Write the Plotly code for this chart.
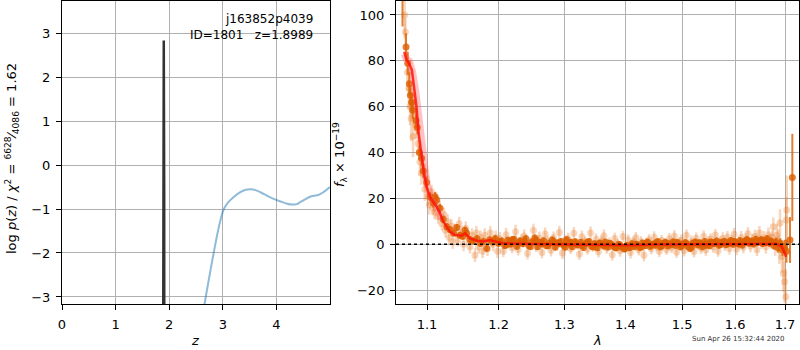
import plotly.graph_objects as go

# ---------------- left panel: log p(z) ----------------
z_pz = [1.8890, 1.8900, 1.8989, 1.9070, 1.9080]
logp_pz = [-3.5, -0.62, 2.83, -0.62, -3.5]

z_chi = [2.60, 2.66, 2.74, 2.83, 2.93, 3.02, 3.10, 3.21, 3.32, 3.43, 3.52, 3.61, 3.72, 3.83,
         3.95, 4.08, 4.20, 4.30, 4.38, 4.45, 4.55, 4.63, 4.70, 4.78, 4.86, 4.93, 5.00]
logp_chi = [-3.6, -3.16, -2.6, -2.0, -1.39, -1.0, -0.85, -0.72, -0.62, -0.56, -0.55, -0.57, -0.63, -0.70,
            -0.77, -0.83, -0.88, -0.90, -0.89, -0.84, -0.77, -0.72, -0.70, -0.68, -0.63, -0.57, -0.50]

z_ticks = [0, 1, 2, 3, 4]
logp_ticks = [-3, -2, -1, 0, 1, 2, 3]

# ---------------- right panel: spectrum ----------------
lam_dark = [1.0677, 1.0723, 1.0745, 1.0766, 1.0780, 1.0797, 1.0810, 1.0854, 1.0871, 1.0897,
            1.0929, 1.0951, 1.0996, 1.1040, 1.1085, 1.1108, 1.1131, 1.1175, 1.1220, 1.1267,
            1.1310, 1.1360, 1.1405, 1.1450, 1.1490, 1.1520, 1.1543, 1.1590, 1.1640, 1.1690,
            1.1740, 1.1780, 1.1828, 1.1870, 1.1910, 1.1950,
            1.2000, 1.2045, 1.2090, 1.2135, 1.2180, 1.2225, 1.2270, 1.2315, 1.2360, 1.2405,
            1.2450, 1.2495, 1.2540, 1.2585, 1.2630, 1.2675, 1.2720, 1.2765, 1.2810, 1.2855,
            1.2900, 1.2945, 1.2990, 1.3035, 1.3080, 1.3125, 1.3170, 1.3215, 1.3260, 1.3305,
            1.3350, 1.3395, 1.3440, 1.3485, 1.3530, 1.3575, 1.3620, 1.3665, 1.3710, 1.3755,
            1.3800, 1.3845, 1.3890, 1.3935, 1.3980, 1.4025, 1.4070, 1.4115, 1.4160, 1.4205,
            1.4250, 1.4295, 1.4340, 1.4385, 1.4430, 1.4475, 1.4520, 1.4565, 1.4610, 1.4655,
            1.4700, 1.4745, 1.4790, 1.4835, 1.4880, 1.4925, 1.4970, 1.5015, 1.5060, 1.5105,
            1.5150, 1.5195, 1.5240, 1.5285, 1.5330, 1.5375, 1.5420, 1.5465, 1.5510, 1.5555,
            1.5600, 1.5645, 1.5690, 1.5735, 1.5780, 1.5825, 1.5870, 1.5915, 1.5960, 1.6005,
            1.6050, 1.6095, 1.6140, 1.6185, 1.6230, 1.6275, 1.6320, 1.6365, 1.6410, 1.6455,
            1.6500, 1.6545, 1.6590, 1.6635, 1.6680, 1.6725, 1.6770, 1.6815, 1.6860, 1.6905,
            1.6950, 1.6990, 1.7030, 1.7104, 1.7152]
flux_dark = [110, 86, 79, 70, 65, 62, 58.6, 54, 51, 40,
             37.5, 32, 27, 20.8, 18, 20.8, 19.3, 15.7, 11, 7.7,
             6.5, 5.0, 7.4, 4.0, 3.5, 6.2, 4.8, 2.0, 1.5, 2.5,
             0.5, 1.2, -1.7, 2.0, 1.0, 2.5,
             0.5, 1.5, -0.5, 1.8, 0.2, 2.2, -0.8, 1.5, 0.3, 2.5,
             -0.5, 1.0, 2.8, -1.0, 0.8, 1.6, -0.6, 0.5, 1.9, -1.2,
             0.7, 1.3, -0.4, 2.0, 0.2, -1.0, 1.1, -0.3, 0.9, -1.4,
             0.4, 1.2, -0.8, 0.3, -1.5, 0.6, -0.2, 1.0, -1.1, 0.2,
             -0.7, -1.6, 0.1, -1.2, -2.0, -0.5, -1.5, 0.3, -1.0, -0.2,
             -1.4, 0.6, -0.6, 1.0, -0.9, 0.2, -0.4, 1.2, -1.1, 0.4,
             0.9, -0.7, 0.3, 1.1, -0.5, 0.6, -1.2, 0.2, 0.8, -0.9,
             -1.8, 0.5, 1.0, -0.3, 0.7, -1.0, 1.3, 0.1, -0.6, 0.9,
             0.3, 1.5, -0.4, 0.8, 1.2, -0.2, 0.6, 1.7, 0.0, 1.0,
             0.4, 1.6, -0.3, 1.2, 2.0, 0.5, 1.4, 0.2, 2.2, 0.9,
             1.8, 0.4, 1.5, 2.4, 0.6, 1.3, -0.5, 1.0, -1.5, 0.5,
             -2.5, -1.0, -3.0, 1.9, 29.2]
err_dark = [15, 6, 5, 5, 4, 4, 4, 3, 3, 3,
            3, 3, 2.5, 2, 2, 2, 2, 2, 1.5, 1.5,
            1.5, 1.5, 1.5, 1.5, 1.5, 1.5, 1.5, 1.5, 1.5, 1.5,
            1.5, 1.5, 1.5, 1.5, 1.5, 1.5,
            1.5, 1.5, 1.5, 1.5, 1.5, 1.5, 1.5, 1.5, 1.5, 1.5,
            1.5, 1.5, 1.5, 1.5, 1.5, 1.5, 1.5, 1.5, 1.5, 1.5,
            1.4, 1.4, 1.4, 1.4, 1.4, 1.4, 1.4, 1.4, 1.4, 1.4,
            1.4, 1.4, 1.4, 1.4, 1.4, 1.4, 1.4, 1.4, 1.4, 1.4,
            1.3, 1.3, 1.3, 1.3, 1.3, 1.3, 1.3, 1.3, 1.3, 1.3,
            1.3, 1.3, 1.3, 1.3, 1.3, 1.3, 1.3, 1.3, 1.3, 1.3,
            1.3, 1.3, 1.3, 1.3, 1.3, 1.3, 1.3, 1.3, 1.3, 1.3,
            1.4, 1.4, 1.4, 1.4, 1.4, 1.4, 1.4, 1.4, 1.4, 1.4,
            1.4, 1.4, 1.4, 1.4, 1.4, 1.4, 1.4, 1.4, 1.4, 1.4,
            1.5, 1.5, 1.5, 1.5, 1.5, 1.5, 1.5, 1.5, 1.5, 1.5,
            1.6, 1.6, 1.6, 1.6, 1.7, 1.7, 1.8, 1.9, 2.0, 2.2,
            2.5, 3.0, 5.0, 10.0, 19.0]

lam_dark2 = [1.2022, 1.2112, 1.2202, 1.2292, 1.2382, 1.2472, 1.2562, 1.2652, 1.2742, 1.2832,
             1.2922, 1.3012, 1.3102, 1.3192, 1.3282, 1.3372, 1.3462, 1.3552, 1.3642, 1.3732,
             1.3822, 1.3912, 1.4002, 1.4092, 1.4182, 1.4272, 1.4362, 1.4452, 1.4542, 1.4632,
             1.4722, 1.4812, 1.4902, 1.4992, 1.5082, 1.5172, 1.5262, 1.5352, 1.5442, 1.5532,
             1.5622, 1.5712, 1.5802, 1.5892, 1.5982, 1.6072, 1.6162, 1.6252, 1.6342, 1.6432,
             1.6522, 1.6612, 1.6702]
flux_dark2 = [1.2, -0.3, 2.0, 0.6, 1.4, -1.0, 1.8, 0.2, -0.6, 1.1,
              0.4, -1.3, 0.9, 0.1, -0.5, 1.0, -1.2, 0.3, -0.8, 0.5,
              -1.3, -0.4, -1.7, -0.9, 0.1, -1.1, 0.5, -0.3, 0.8, -0.6,
              0.4, -0.2, 0.9, -0.5, 0.3, -1.2, 0.6, 0.2, -0.4, 1.0,
              0.8, -0.1, 1.1, 0.5, 1.3, 0.2, 0.9, 1.6, 0.7, 1.2,
              1.9, 0.8, 1.1]
err_dark2 = [1.5, 1.4, 1.5, 1.4, 1.5, 1.4, 1.5, 1.4, 1.4, 1.4,
             1.4, 1.3, 1.4, 1.3, 1.4, 1.3, 1.3, 1.3, 1.3, 1.3,
             1.3, 1.3, 1.3, 1.3, 1.3, 1.3, 1.3, 1.3, 1.3, 1.3,
             1.3, 1.3, 1.3, 1.3, 1.3, 1.4, 1.4, 1.4, 1.4, 1.4,
             1.4, 1.4, 1.4, 1.4, 1.4, 1.5, 1.5, 1.5, 1.5, 1.5,
             1.6, 1.6, 1.7]

lam_faint = [1.0705, 1.0715, 1.0740, 1.0760, 1.0775, 1.0790, 1.0800, 1.0815, 1.0830, 1.0850,
             1.0880, 1.0905, 1.0925, 1.0945, 1.0970, 1.0985, 1.1010, 1.1030, 1.1060, 1.1080,
             1.1100, 1.1120, 1.1150, 1.1170, 1.1200, 1.1230, 1.1250, 1.1280, 1.1300, 1.1330,
             1.1350, 1.1380, 1.1420, 1.1440, 1.1470, 1.1500, 1.1530, 1.1560, 1.1590, 1.1620,
             1.1661, 1.1680, 1.1710, 1.1740, 1.1770, 1.1800, 1.1840, 1.1880, 1.1920, 1.1960,
             1.1985,
             1.202, 1.207, 1.211, 1.216, 1.220, 1.225, 1.229, 1.234, 1.238, 1.243,
             1.247, 1.252, 1.256, 1.261, 1.265, 1.270, 1.274, 1.279, 1.283, 1.288,
             1.292, 1.297, 1.301, 1.306, 1.310, 1.315, 1.319, 1.324, 1.328, 1.333,
             1.337, 1.342, 1.346, 1.351, 1.355, 1.360, 1.364, 1.369, 1.373, 1.378,
             1.382, 1.387, 1.391, 1.396, 1.400, 1.405, 1.409, 1.414, 1.418, 1.423,
             1.427, 1.432, 1.436, 1.441, 1.445, 1.450, 1.454, 1.459, 1.463, 1.468,
             1.472, 1.477, 1.481, 1.486, 1.490, 1.495, 1.499, 1.504, 1.508, 1.513,
             1.517, 1.522, 1.526, 1.531, 1.535, 1.540, 1.544, 1.549, 1.553, 1.558,
             1.562, 1.567, 1.571, 1.576, 1.580, 1.585, 1.589, 1.594, 1.598, 1.603,
             1.607, 1.612, 1.616, 1.621, 1.625, 1.630, 1.634, 1.639, 1.643, 1.648,
             1.652, 1.657, 1.661, 1.666, 1.670,
             1.6740, 1.6760, 1.6800, 1.6830, 1.6860, 1.6883, 1.6897, 1.6935, 1.6966, 1.6990,
             1.7017, 1.7024, 1.7037]
flux_faint = [100, 92.6, 75, 68, 60, 55, 62, 47, 58, 52,
              44, 36, 31, 34, 24, 29, 21, 17, 23, 16,
              14, 20, 12, 16, 9, 13, 6, 10, 3, 8,
              1, 6, 2, 9, 5, 0, 7, 3, -1, 4,
              -4.7, 5, -1, 3, -3, 4, -2, 5, 0, 3,
              -3,
              2.5, -3.0, 4.2, 0.8, -1.5, 5.5, -2.2, 1.9, 3.6, -4.0,
              0.5, 6.0, -1.0, 2.8, -3.5, 4.5, 1.2, -2.6, 3.0, -0.5,
              5.2, -3.8, 1.6, 2.4, -1.8, 4.8, 0.2, -4.2, 3.3, 1.0,
              -2.0, 5.0, -0.8, 2.2, -3.2, 1.4, 3.8, -1.6, 0.6, -4.5,
              2.6, 0.0, -2.8, 3.4, -1.2, 1.8, -3.6, 0.9, 2.9, -2.4,
              1.1, -4.8, 0.4, 2.0, -1.9, 3.1, -0.6, -3.0, 1.7, 0.3,
              -2.2, 2.5, -1.4, 3.6, -3.4, 0.7, 1.9, -2.7, 4.0, -0.9,
              1.3, -3.1, 2.7, 0.1, -1.7, 3.5, -2.5, 1.0, 2.3, -1.1,
              4.1, -2.9, 0.8, 2.6, -0.4, 3.2, -1.8, 1.5, 4.4, -2.0,
              0.6, 3.0, -1.3, 2.1, 4.6, -0.7, 1.8, 3.4, -2.3, 5.0,
              0.9, 2.8, -1.0, 4.2, 1.4,
              3.0, 7.7, -1.0, 4.0, 1.5, -2.5, 9.3, -5.4, -12.7, -16.3,
              -22.8, 10.6, 15.0]
err_faint = [10, 6, 8, 9, 8, 10, 6, 9, 6, 6,
             5, 6, 5, 4, 5, 4, 4, 4, 3, 3,
             3, 3, 3, 3, 3, 3, 3, 3, 3, 3,
             3, 3, 3, 3, 3, 3, 3, 3, 3, 3,
             3, 3, 3, 3, 3, 3, 3, 3, 3, 3,
             3,
             2.8, 2.5, 3.0, 2.6, 2.4, 3.1, 2.7, 2.5, 2.9, 2.6,
             2.5, 3.0, 2.4, 2.8, 2.6, 2.9, 2.5, 2.7, 2.6, 2.4,
             2.9, 2.6, 2.5, 2.7, 2.4, 2.8, 2.5, 2.6, 2.7, 2.4,
             2.5, 2.8, 2.4, 2.6, 2.5, 2.4, 2.7, 2.5, 2.4, 2.6,
             2.5, 2.4, 2.6, 2.5, 2.4, 2.5, 2.6, 2.4, 2.5, 2.4,
             2.5, 2.6, 2.4, 2.5, 2.4, 2.6, 2.4, 2.5, 2.4, 2.5,
             2.4, 2.5, 2.4, 2.6, 2.5, 2.4, 2.5, 2.6, 2.5, 2.4,
             2.5, 2.6, 2.5, 2.4, 2.5, 2.6, 2.5, 2.4, 2.5, 2.6,
             2.6, 2.5, 2.6, 2.7, 2.5, 2.6, 2.7, 2.5, 2.8, 2.6,
             2.7, 2.8, 2.6, 2.7, 2.9, 2.7, 2.8, 3.0, 2.8, 3.0,
             2.9, 3.0, 3.1, 3.2, 3.3,
             3, 4, 4, 5, 5, 6, 6, 7, 8, 9,
             12, 10, 15]

lam_model = [1.0700, 1.0723, 1.0760, 1.0800, 1.0830, 1.0860, 1.0890, 1.0929, 1.0960, 1.0996,
             1.1030, 1.1063, 1.1131, 1.1175, 1.1220, 1.1312, 1.1381, 1.1474, 1.1520, 1.1591,
             1.1686, 1.1780, 1.1876, 1.1974, 1.2070, 1.2500, 1.3000, 1.3500, 1.3900, 1.4100,
             1.4500, 1.5000, 1.5500, 1.6000, 1.6500, 1.6832, 1.6935, 1.7003, 1.7024]
flux_model = [84, 81, 79, 76, 68, 60, 48, 38, 31, 25,
              21.5, 19.3, 16.4, 13.5, 9.9, 5.5, 4.1, 3.8, 4.8, 2.6,
              1.6, 1.3, 1.9, 1.1, 0.4, 0.2, 0.1, 0.0, -0.3, -0.4,
              -0.1, 0.0, 0.1, 0.2, 0.3, 0.2, -1.0, -3.9, -5.4]

lam_model2 = [1.0700, 1.0723, 1.0766, 1.0810, 1.0850, 1.0880, 1.0920, 1.0960, 1.1000, 1.1050,
              1.1100, 1.1150, 1.1200]
flux_model2 = [83, 81, 80, 75, 67, 58, 45, 33, 26, 21, 18, 15, 11]

lam_ticks = [1.1, 1.2, 1.3, 1.4, 1.5, 1.6, 1.7]
flux_ticks = [-20, 0, 20, 40, 60, 80, 100]

DARK = "rgba(220,95,0,0.8)"
FAINT = "rgba(230,110,20,0.28)"
FONT = "DejaVu Sans"

fig = go.Figure()

# left panel
fig.add_trace(go.Scatter(x=z_chi, y=logp_chi, mode="lines", xaxis="x", yaxis="y",
                         line=dict(color="rgba(31,119,180,0.5)", width=2, shape="spline")))
fig.add_trace(go.Scatter(x=z_pz, y=logp_pz, mode="lines", xaxis="x", yaxis="y",
                         line=dict(color="#333333", width=2.5)))

# right panel
fig.add_trace(go.Scatter(x=lam_faint, y=flux_faint, mode="markers", xaxis="x2", yaxis="y2",
                         marker=dict(color=FAINT, size=7, line=dict(width=0)),
                         error_y=dict(type="data", array=err_faint, color=FAINT, thickness=2.5, width=0)))
for lx, fy, ey in [(lam_dark, flux_dark, err_dark), (lam_dark2, flux_dark2, err_dark2)]:
    fig.add_trace(go.Scatter(x=lx, y=fy, mode="markers", xaxis="x2", yaxis="y2",
                             marker=dict(color=DARK, size=7, line=dict(width=0)),
                             error_y=dict(type="data", array=ey, color=DARK, thickness=2, width=0)))
fig.add_trace(go.Scatter(x=lam_model2, y=flux_model2, mode="lines", xaxis="x2", yaxis="y2",
                         line=dict(color="rgba(255,80,80,0.35)", width=7)))
fig.add_trace(go.Scatter(x=lam_model, y=flux_model, mode="lines", xaxis="x2", yaxis="y2",
                         line=dict(color="rgba(255,20,10,0.85)", width=2.5)))

fig.add_shape(type="line", xref="x2 domain", yref="y2", x0=0, x1=1, y0=0, y1=0,
              line=dict(color="black", width=1.5, dash="dot"), layer="above")

axis_common = dict(showline=True, linecolor="black", linewidth=1, mirror=True,
                   ticks="outside", ticklen=5, tickwidth=1, tickcolor="black",
                   showgrid=True, gridcolor="#b0b0b0", gridwidth=1, zeroline=False,
                   tickfont=dict(family=FONT, size=13, color="black"), ticklabelstandoff=3)

fig.update_layout(
    width=800, height=350,
    margin=dict(l=62, r=1, t=1, b=46),
    paper_bgcolor="white", plot_bgcolor="white",
    showlegend=False,
    font=dict(family=FONT, size=13, color="black"),
    xaxis=dict(domain=[0, 0.3636], range=[0, 5.0], tickvals=z_ticks, anchor="y", **axis_common),
    yaxis=dict(domain=[0, 1], range=[-3.16, 3.73], tickvals=logp_ticks, anchor="x", **axis_common),
    xaxis2=dict(domain=[0.4532, 1], type="log", range=[0.02502, 0.23784], tickvals=lam_ticks,
                ticktext=[str(v) for v in lam_ticks], anchor="y2", **axis_common),
    yaxis2=dict(domain=[0, 1], range=[-26.0, 106.1], tickvals=flux_ticks, anchor="x2", **axis_common),
)

ann = [
    dict(text="j163852p4039", xref="x", yref="y", x=4.72, y=3.32, xanchor="right", yanchor="middle",
         showarrow=False, font=dict(family=FONT, size=12, color="black")),
    dict(text="ID=1801   z=1.8989", xref="x", yref="y", x=4.72, y=2.95, xanchor="right", yanchor="middle",
         showarrow=False, font=dict(family=FONT, size=12, color="black")),
    dict(text="<i>z</i>", xref="x domain", yref="paper", x=0.5, y=-0.119, xanchor="center", yanchor="middle",
         showarrow=False, font=dict(family=FONT, size=13, color="black")),
    dict(text="<i>λ</i>", xref="x2 domain", yref="paper", x=0.5, y=-0.119, xanchor="center", yanchor="middle",
         showarrow=False, font=dict(family=FONT, size=13, color="black")),
    dict(text="log <i>p</i>(<i>z</i>) / <i>χ</i><sup>2</sup> = <sup>6628</sup>⁄<sub>4086</sub> = 1.62",
         xref="paper", yref="paper", x=-0.0678, y=0.4785, xanchor="center", yanchor="middle",
         textangle=-90, showarrow=False, font=dict(family=FONT, size=13, color="black")),
    dict(text="<i>f</i><sub>λ</sub> × 10<sup>−19</sup>", xref="paper", yref="paper", x=0.3772, y=0.495,
         xanchor="center", yanchor="middle", textangle=-90, showarrow=False,
         font=dict(family=FONT, size=13, color="black")),
    dict(text="Sun Apr 26 15:32:44 2020", xref="paper", yref="paper", x=0.9837, y=-0.1155,
         xanchor="right", yanchor="middle", showarrow=False, font=dict(family=FONT, size=7, color="#333333")),
]
fig.update_layout(annotations=ann)

fig.write_html("out.html", config={"displayModeBar": False},
               post_script="document.body.style.margin='0';document.body.style.padding='0';")
